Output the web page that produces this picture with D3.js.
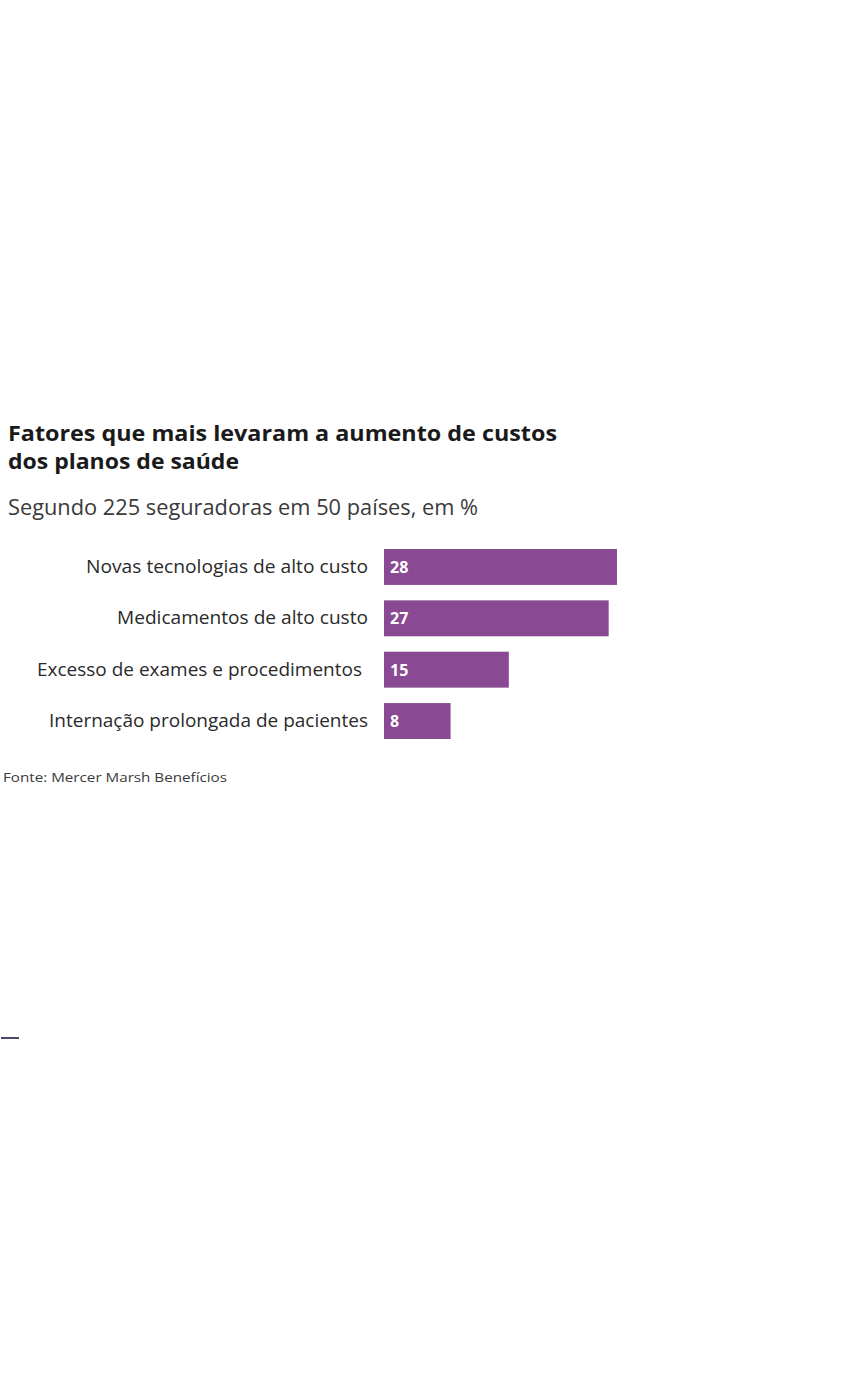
<!DOCTYPE html>
<html>
<head>
  <meta charset="utf-8">
  <title>Fatores que mais levaram a aumento de custos</title>
  <script src="https://d3js.org/d3.v7.min.js"></script>
  <style>
    body {
      margin: 0;
      background-color: #ffffff;
    }
    text {
      font-family: "Open Sans", "Noto Sans", sans-serif;
    }
  </style>
</head>
<body>
  <script>
    var categories = [
      "Novas tecnologias de alto custo",
      "Medicamentos de alto custo",
      "Excesso de exames e procedimentos",
      "Internação prolongada de pacientes"
    ];
    var values = [28, 27, 15, 8];
    var titleLines = ["Fatores que mais levaram a aumento de custos", "dos planos de saúde"];
    var subtitle = "Segundo 225 seguradoras em 50 países, em %";
    var source = "Fonte: Mercer Marsh Benefícios";

    var svg = d3.select("body")
      .append("svg")
      .attr("width", 851)
      .attr("height", 1373);

    // titulo em um unico text, duas linhas
    var titleWidths = [549, 231];
    svg.append("text")
      .attr("class", "title")
      .attr("font-size", 22)
      .attr("font-weight", "bold")
      .attr("fill", "#1a1a1a")
      .selectAll("tspan")
      .data(titleLines)
      .enter()
      .append("tspan")
      .attr("x", 8)
      .attr("y", function(d, i) { return 441 + i * 28; })
      .attr("textLength", function(d, i) { return titleWidths[i]; })
      .attr("lengthAdjust", "spacingAndGlyphs")
      .text(function(d) { return d; });

    svg.append("text")
      .attr("x", 8)
      .attr("y", 515)
      .attr("font-size", 21)
      .attr("fill", "#3a3a3a")
      .attr("textLength", 470)
      .attr("lengthAdjust", "spacingAndGlyphs")
      .text(subtitle);

    var x = d3.scaleLinear()
      .domain([0, d3.max(values)])
      .range([384, 617]);

    var y = d3.scaleBand()
      .domain(categories)
      .range([549, 739])
      .paddingInner(0.3);

    var labelWidths = [282, 251, 325, 319];
    var labelRight = [368, 368, 362, 368];

    var rows = svg.selectAll(".row")
      .data(categories)
      .enter()
      .append("g")
      .attr("class", "row");

    rows.append("rect")
      .attr("x", x(0))
      .attr("y", function(d) { return y(d); })
      .attr("width", function(d, i) { return x(values[i]) - x(0); })
      .attr("height", y.bandwidth())
      .attr("fill", "#8a4a93");

    rows.append("text")
      .attr("x", function(d, i) { return labelRight[i]; })
      .attr("y", function(d) { return y(d) + y.bandwidth() / 2 + 6; })
      .attr("text-anchor", "end")
      .attr("font-size", 19)
      .attr("fill", "#2a2a2a")
      .attr("textLength", function(d, i) { return labelWidths[i]; })
      .attr("lengthAdjust", "spacingAndGlyphs")
      .text(function(d) { return d; });

    rows.append("text")
      .attr("x", x(0) + 6)
      .attr("y", function(d) { return y(d) + y.bandwidth() / 2 + 6; })
      .attr("font-size", 16)
      .attr("font-weight", "bold")
      .attr("fill", "#ffffff")
      .text(function(d, i) { return values[i]; });

    svg.append("text")
      .attr("x", 3)
      .attr("y", 782)
      .attr("font-size", 13)
      .attr("fill", "#3a3a3a")
      .attr("textLength", 224)
      .attr("lengthAdjust", "spacingAndGlyphs")
      .text(source);

    // pequeno traço no canto inferior esquerdo
    svg.append("rect")
      .attr("x", 1)
      .attr("y", 1037)
      .attr("width", 18)
      .attr("height", 2)
      .attr("fill", "#4a4a66");
  </script>
</body>
</html>
